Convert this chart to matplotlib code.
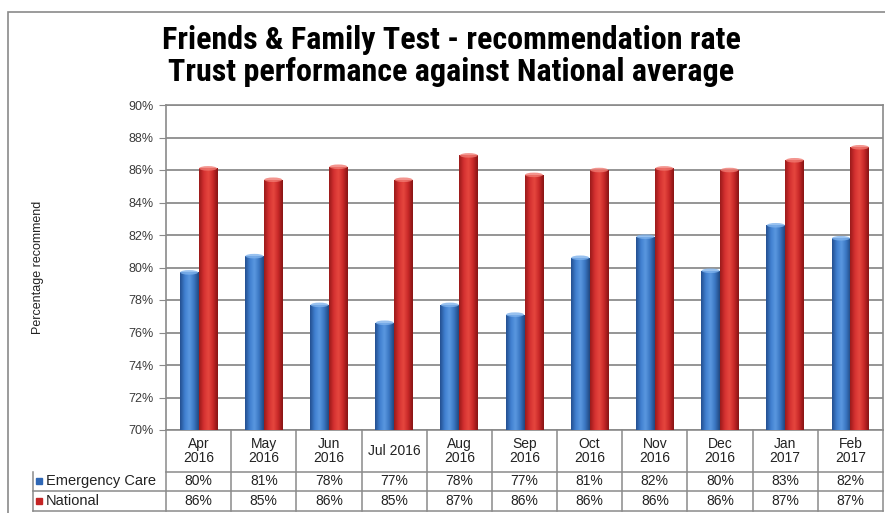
import numpy as np
import matplotlib.pyplot as plt
from matplotlib.colors import LinearSegmentedColormap
from matplotlib.patches import Rectangle, Ellipse
from matplotlib import font_manager

# Monthly recommendation rates (%)
months = ["Apr\n2016", "May\n2016", "Jun\n2016", "Jul 2016", "Aug\n2016", "Sep\n2016",
          "Oct\n2016", "Nov\n2016", "Dec\n2016", "Jan\n2017", "Feb\n2017"]
emergency_care = [79.7, 80.7, 77.7, 76.6, 77.7, 77.1, 80.6, 81.9, 79.8, 82.6, 81.8]
national = [86.1, 85.4, 86.2, 85.4, 86.9, 85.7, 86.0, 86.1, 86.0, 86.6, 87.4]
series_names = ["Emergency Care", "National"]
y_ticks = [70, 72, 74, 76, 78, 80, 82, 84, 86, 88, 90]

installed = {f.name for f in font_manager.fontManager.ttflist}
narrow = [f for f in ["Liberation Sans Narrow", "Roboto Condensed", "DejaVu Sans Condensed"]
          if f in installed] + ["Liberation Sans", "DejaVu Sans"]
plain = ["Liberation Sans", "DejaVu Sans"]
title_size = 23 if narrow[0] != "Liberation Sans" else 18

blue_cm = LinearSegmentedColormap.from_list(
    "blue_cyl", ["#244f8f", "#3f7fcf", "#5b98e0", "#3a76c2", "#21477f"])
red_cm = LinearSegmentedColormap.from_list(
    "red_cyl", ["#9a1a1a", "#d43030", "#e6473f", "#c82828", "#861414"])
cap_colors = ["#7fb2ec", "#f07a72"]

fig = plt.figure(figsize=(8.85, 5.13), dpi=100)
W, H = 885, 513
ax = fig.add_axes([166 / W, 1 - 430 / H, 717 / W, 325 / H])

# outer chart frame
fig.patches.append(Rectangle((8 / W, -0.05), 1.2, 1 - 12 / H + 0.05,
                             transform=fig.transFigure, fill=False,
                             edgecolor="#8a8a8a", linewidth=1.2))

x = np.arange(len(months))
bw = 0.29
grad = np.linspace(0, 1, 64).reshape(1, -1)

for vals, off, cm, cap in [(emergency_care, -bw / 2, blue_cm, cap_colors[0]),
                           (national, bw / 2, red_cm, cap_colors[1])]:
    bars = ax.bar(x + off, np.array(vals) - 70, bw, bottom=70, color="none",
                  edgecolor="none", zorder=3)
    for b, v in zip(bars, vals):
        x0 = b.get_x()
        im = ax.imshow(grad, cmap=cm, aspect="auto", zorder=3,
                       extent=[x0, x0 + bw, 70, v], interpolation="bicubic")
        im.set_clip_path(b)
        ax.add_patch(Ellipse((x0 + bw / 2, v), bw * 0.95, 0.28,
                             facecolor=cap, edgecolor="none", alpha=0.8, zorder=4))

ax.set_xlim(-0.5, len(months) - 0.5)
ax.set_ylim(70, 90)
ax.set_yticks(y_ticks)
ax.set_yticklabels([f"{t}%" for t in y_ticks], family=plain, fontsize=9, color="#3a3a3a")
ax.tick_params(axis="y", length=5, color="#8a8a8a", pad=4)
ax.set_xticks([])
ax.grid(axis="y", color="#8c8c8c", linewidth=1.3, zorder=0)
for s in ax.spines.values():
    s.set_color("#8a8a8a")
    s.set_linewidth(1.2)

ax.set_ylabel("Percentage recommend", family=plain, fontsize=9, color="#222222",
              labelpad=0)
ax.yaxis.set_label_coords(-0.17, 0.5)

# data table below the axis
row_edges = [0, -0.128, -0.187, -0.25]
label_left = -0.1855
tcolor = "#8a8a8a"
kw = dict(transform=ax.transAxes, clip_on=False, color=tcolor, linewidth=1.1)
ax.plot([0, 1], [row_edges[1]] * 2, **kw)
for yb in row_edges[2:]:
    ax.plot([label_left, 1], [yb] * 2, **kw)
ax.plot([label_left, label_left], [row_edges[1], row_edges[3]], **kw)
for i in range(len(months) + 1):
    xf = i / len(months)
    ax.plot([xf, xf], [row_edges[0], row_edges[3]], **kw)

cell_w = 1 / len(months)
for i, m in enumerate(months):
    xc = (i + 0.5) * cell_w
    ax.text(xc, (row_edges[0] + row_edges[1]) / 2, m, transform=ax.transAxes,
            ha="center", va="center", fontsize=10, family=plain, color="#222222",
            linespacing=1.0)
    for r, vals in enumerate([emergency_care, national]):
        ax.text(xc, (row_edges[r + 1] + row_edges[r + 2]) / 2, f"{vals[i]:.0f}%",
                transform=ax.transAxes, ha="center", va="center", fontsize=10,
                family=plain, color="#222222")

for r, (name, col) in enumerate(zip(series_names, ["#2f67b5", "#c42424"])):
    yc = (row_edges[r + 1] + row_edges[r + 2]) / 2
    ax.plot([label_left + 0.009], [yc], marker="s", markersize=4, color=col,
            transform=ax.transAxes, clip_on=False)
    ax.text(label_left + 0.018, yc, name, transform=ax.transAxes, ha="left",
            va="center", fontsize=10.5, family=plain, color="#222222")

fig.text(0.51, 1 - 40 / H, "Friends & Family Test - recommendation rate",
         ha="center", va="center", fontsize=title_size, fontweight="bold", family=narrow)
fig.text(0.51, 1 - 72 / H, "Trust performance against National average",
         ha="center", va="center", fontsize=title_size, fontweight="bold", family=narrow)

fig.savefig("out.png", dpi=100)
